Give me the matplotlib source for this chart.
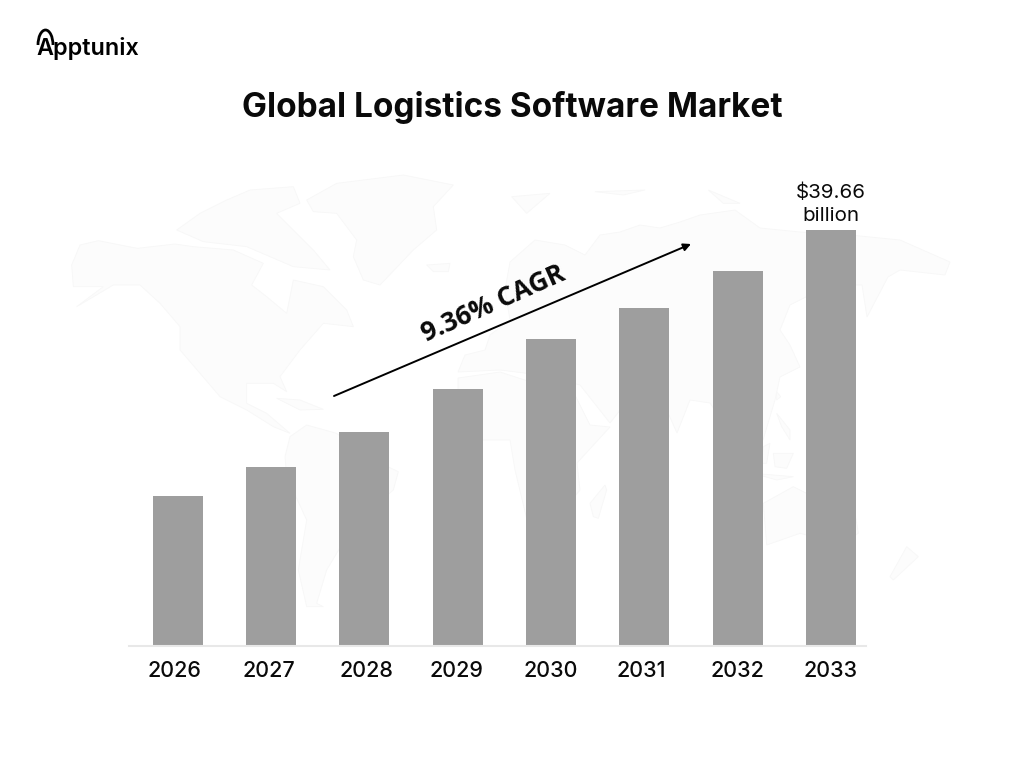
import matplotlib
matplotlib.use("Agg")
import matplotlib.pyplot as plt
from matplotlib.patches import Polygon, Arc
from matplotlib.transforms import ScaledTranslation

years = ["2026", "2027", "2028", "2029", "2030", "2031", "2032", "2033"]
market_size = [14.25, 17.0, 20.35, 24.45, 29.25, 32.2, 35.75, 39.66]
title = "Global Logistics Software Market"
cagr_label = "9.36% CAGR"
end_label = "$39.66\nbillion"

W, H = 1024, 770
plt.rcParams["font.family"] = ["Inter", "DejaVu Sans"]
fig = plt.figure(figsize=(W / 100, H / 100), dpi=100, facecolor="white")

# pixel-space overlay for the faint decorative world map
bg = fig.add_axes([0, 0, 1, 1], zorder=0)
bg.set_xlim(0, W); bg.set_ylim(H, 0); bg.axis("off")


def z4(pts):
    return [(60 + x / 3, 170 + y / 3) for x, y in pts]


def z5(pts):
    return [(500 + x / 3, 170 + y / 3) for x, y in pts]


land = [
    z4([(35,285),(60,225),(115,212),(232,235),(345,222),(400,230),(520,240),(610,280),(575,345),(620,380),(680,430),
        (700,330),(790,350),(860,420),(880,470),(790,460),(720,540),(660,620),(680,665),(640,640),(560,640),(560,700),
        (620,730),(690,790),(640,770),(560,720),(480,680),(420,610),(360,540),(360,470),(300,400),(240,345),(160,345),
        (50,410),(130,350),(40,350)]),
    z4([(350,180),(420,130),(500,90),(570,60),(700,50),(720,100),(650,130),(760,240),(810,300),(700,290),(560,230),(430,215)]),
    z4([(740,90),(830,40),(1030,15),(1180,45),(1120,110),(1130,180),(1060,240),(960,345),(910,330),(880,260),(890,210),(830,130),(760,125)]),
    z4([(1100,285),(1170,280),(1165,305),(1120,305)]),
    z4([(690,800),(740,765),(830,790),(920,860),(1015,905),(1000,960),(930,1020),(860,1100),(800,1200),(770,1300),(790,1310),
        (740,1310),(715,1200),(740,1050),(680,920),(675,860)]),
    z4([(650,685),(720,690),(790,718),(720,720)]),
    [(458,372),(465,355),(485,350),(490,335),(510,320),(505,290),(510,262),(535,240),(565,245),(585,255),(600,235),(620,232),
     (640,225),(660,228),(680,222),(700,215),(735,210),(760,228),(800,232),(850,235),(900,240),(950,262),(945,275),(900,270),
     (888,277),(867,317),(862,285),(830,285),(790,305),(780,330),(790,345),(800,367),(780,377),(775,400),(763,440),(740,410),
     (725,425),(710,403),(690,400),(677,433),(660,395),(640,385),(610,423),(580,385),(540,375),(500,370)],
    [(458,378),(500,372),(540,385),(575,395),(590,425),(610,427),(577,463),(580,490),(555,520),(527,520),(515,470),(510,440),(480,440),(458,410)],
    z5([(280,1040),(270,1000),(315,945),(320,960),(295,1045)]),
    z5([(790,1000),(880,950),(960,990),(1060,1000),(1075,1090),(1020,1120),(900,1090),(800,1125)]),
    z5([(1220,1130),(1255,1160),(1180,1230),(1170,1220)]),
    z5([(830,730),(870,780),(870,810),(845,770)]),
    z5([(820,850),(880,850),(860,895),(825,890)]),
    z5([(790,830),(810,820),(800,880),(785,880)]),
    z5([(830,665),(842,680),(830,690)]),
    z5([(760,910),(880,920),(830,930)]),
    z5([(35,80),(150,70),(80,130)]),
    z5([(625,60),(720,100),(670,100)]),
    z5([(285,65),(435,60),(370,75)]),
]
for poly in land:
    bg.add_patch(Polygon(poly, closed=True, facecolor="#fcfcfc", edgecolor="#f7f7f7", lw=0.6))

# chart axes: baseline spanning x=129..866
left, right, top, base = 129, 866, 170, 645.5
ax = fig.add_axes([left / W, 1 - base / H, (right - left) / W, (base - top) / H], zorder=1)
ax.patch.set_alpha(0)
step = 93.3
first = 177.7
ax.set_xlim((left - first) / step, (right - first) / step)
ax.set_ylim(0, 39.66 * (base - top) / 415.5)
ax.bar(range(len(years)), market_size, width=50 / step, color="#9e9e9e")
ax.set_xticks(range(len(years)), years, fontsize=15.5, color="#0a0a0a", fontweight="medium")
ax.tick_params(axis="x", length=0, pad=11)
label_nudge = [-3, -1.7, 1.8, -0.7, 0.3, -2.7, 0, 0]
for lab, dx in zip(ax.get_xticklabels(), label_nudge):
    lab.set_transform(lab.get_transform() + ScaledTranslation(dx / 100, 0, fig.dpi_scale_trans))
ax.set_yticks([])
for s in ["top", "left", "right"]:
    ax.spines[s].set_visible(False)
ax.spines["bottom"].set_color("#e8e8e8")
ax.spines["bottom"].set_linewidth(1.5)
ax.text(7, market_size[-1] + 0.5, end_label, ha="center", va="bottom", fontsize=14.8,
        color="#0a0a0a", linespacing=1.32)

# overlay
fg = fig.add_axes([0, 0, 1, 1], zorder=2)
fg.set_xlim(0, W); fg.set_ylim(H, 0); fg.axis("off")
fg.text(512, 107.5, title, ha="center", va="center", fontsize=24, fontweight="bold", color="#0a0a0a")
fg.annotate("", xy=(691, 244), xytext=(334, 396),
            arrowprops=dict(arrowstyle="-|>", color="black", lw=1.4, mutation_scale=11, shrinkA=0, shrinkB=0))
fg.text(493, 304, cagr_label, ha="center", va="center", rotation=24, rotation_mode="anchor",
        fontsize=19, fontweight="bold", family=["Open Sans", "DejaVu Sans"], color="#0a0a0a")
fg.text(36, 48.5, "Apptunix", ha="left", va="center", fontsize=16.8, fontweight="semibold", color="black")
fg.add_patch(Arc((45.5, 45), 15, 30, theta1=180, theta2=360, color="black", lw=2))

fig.savefig("out.png", dpi=100)
